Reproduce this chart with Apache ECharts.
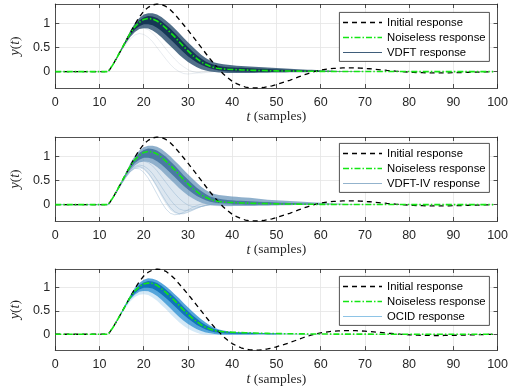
<!DOCTYPE html>
<html><head><meta charset="utf-8">
<script src="https://cdn.jsdelivr.net/npm/echarts@6/dist/echarts.min.js"></script>
<style>html,body{margin:0;padding:0;background:#fff}#c{width:511px;height:387px}</style>
</head><body><div id="c"></div>
<script>
// ---------- data (t = 0..99 samples) ----------
const xTicks = [0,10,20,30,40,50,60,70,80,90,100];
const yTicks = [0, 0.5, 1];
const legendLabels = ['Initial response','Noiseless response'];
const bandNames = ['VDFT response','VDFT-IV response','OCID response'];

const initialResp = [0,0,0,0,0,0,0,0,0,0,0,0,0,
 0.14,0.3,0.47,0.64,0.81,0.98,1.13,1.25,
 1.33,1.38,1.4,1.39,1.35,1.28,1.19,1.08,0.97,0.86,
 0.74,0.62,0.5,0.38,0.26,0.15,0.05,-0.05,-0.13,-0.2,
 -0.25,-0.29,-0.32,-0.335,-0.34,-0.34,-0.33,-0.315,-0.295,-0.27,
 -0.24,-0.21,-0.18,-0.145,-0.11,-0.075,-0.045,-0.015,0.01,0.03,
 0.045,0.057,0.066,0.072,0.076,0.078,0.078,0.076,0.072,0.066,
 0.059,0.051,0.042,0.033,0.024,0.016,0.008,0.001,-0.005,-0.011,
 -0.016,-0.02,-0.023,-0.025,-0.026,-0.027,-0.027,-0.026,-0.025,-0.023,
 -0.021,-0.019,-0.016,-0.014,-0.011,-0.009,-0.006,-0.004,-0.002];

const noiseless = [0,0,0,0,0,0,0,0,0,0,0,0,0,
 0.14,0.3,0.47,0.64,0.8,0.93,1.02,1.08,
 1.1,1.09,1.05,0.98,0.9,0.81,0.72,0.62,0.52,0.43,
 0.34,0.27,0.2,0.15,0.11,0.08,0.065,0.055,0.048,0.043,
 0.039,0.035,0.032,0.029,0.026,0.023,0.021,0.019,0.017,0.015,
 0.013,0.012,0.011,0.01,0.009,0.008,0.007,0.006,0.005,0.005,
 0.004,0.004,0.003,0.003,0.003,0.002,0.002,0.002,0.002,0.002,
 0.002,0.001,0.001,0.001,0.001,0.001,0.001,0.001,0.001,0.001,
 0,0,0,0,0,0,0,0,0,0,
 0,0,0,0,0,0,0,0,0];

// VDFT ensemble envelope
const vdftHi = [0,0,0,0,0,0,0,0,0,0,0,0,0,
 0.145,0.31,0.49,0.67,0.85,1.0,1.11,1.18,
 1.21,1.21,1.18,1.13,1.06,0.98,0.89,0.8,0.7,0.61,
 0.52,0.43,0.35,0.28,0.23,0.19,0.17,0.15,0.14,0.13,
 0.12,0.115,0.11,0.105,0.1,0.095,0.09,0.085,0.08,0.075,
 0.07,0.065,0.06,0.055,0.05,0.045,0.04,0.036,0.032,0.028,
 0.024,0.02,0.017,0.014,0.012,0.01,0.008,0.006,0.005,0.004];
const vdftLo = [0,0,0,0,0,0,0,0,0,0,0,0,0,
 0.13,0.28,0.44,0.59,0.72,0.82,0.88,0.9,
 0.89,0.85,0.79,0.71,0.62,0.53,0.44,0.35,0.27,0.2,
 0.14,0.09,0.05,0.02,0,-0.01,-0.02,-0.025,-0.03,-0.03,
 -0.03,-0.03,-0.03,-0.03,-0.028,-0.026,-0.024,-0.022,-0.02,-0.019,
 -0.018,-0.017,-0.016,-0.015,-0.014,-0.013,-0.012,-0.011,-0.01,-0.009,
 -0.008,-0.007,-0.006,-0.005,-0.004,-0.003,-0.002,-0.002,-0.001,0];
const vdftCoreHi = [0,0,0,0,0,0,0,0,0,0,0,0,0,
 0.142,0.305,0.48,0.655,0.82,0.96,1.06,1.12,
 1.15,1.14,1.11,1.05,0.97,0.89,0.8,0.7,0.6,0.51,
 0.42,0.34,0.27,0.21,0.165,0.135,0.115,0.1,0.092,0.085,
 0.081,0.077,0.073,0.069,0.065,0.061,0.057,0.053,0.049,0.045,
 0.042,0.039,0.036,0.033,0.03,0.027,0.024,0.021,0.018,0.015];
const vdftCoreLo = [0,0,0,0,0,0,0,0,0,0,0,0,0,
 0.135,0.29,0.455,0.615,0.76,0.87,0.94,0.98,
 0.98,0.96,0.91,0.84,0.76,0.67,0.58,0.49,0.4,0.32,
 0.25,0.19,0.14,0.1,0.07,0.045,0.025,0.01,0,-0.005,
 -0.008,-0.01,-0.01,-0.01,-0.01,-0.01,-0.009,-0.008,-0.007,-0.006,
 -0.005,-0.004,-0.004,-0.003,-0.003,-0.002,-0.002,-0.001,-0.001,0];
const vdftOutA = [0,0,0,0,0,0,0,0,0,0,0,0,0,
 0.13,0.28,0.43,0.57,0.68,0.76,0.79,0.77,
 0.71,0.62,0.5,0.38,0.26,0.15,0.06,0,-0.04,-0.05,
 -0.04,-0.03,-0.01,0,0.01,0.01,0.01,0,0,0, 0,0,0,0];
const vdftOutB = [0,0,0,0,0,0,0,0,0,0,0,0,0,
 0.14,0.29,0.45,0.6,0.73,0.83,0.89,0.9,
 0.87,0.8,0.7,0.59,0.47,0.36,0.26,0.17,0.1,0.04,
 0,-0.02,-0.03,-0.02,-0.01,0,0.01,0.01,0.01,0, 0,0,0,0];

// VDFT-IV ensemble envelope
const ivHi = [0,0,0,0,0,0,0,0,0,0,0,0,0,
 0.145,0.31,0.49,0.67,0.86,1.01,1.12,1.19,
 1.22,1.22,1.2,1.15,1.08,1.0,0.91,0.82,0.72,0.63,
 0.54,0.45,0.37,0.3,0.25,0.22,0.2,0.19,0.18,0.17,
 0.16,0.15,0.145,0.14,0.13,0.12,0.11,0.1,0.095,0.09,
 0.085,0.08,0.075,0.07,0.065,0.06,0.055,0.05,0.045,0.04,
 0.035,0.03,0.025,0.02,0.016,0.013,0.01,0.008,0.006,0.004];
const ivLo = [0,0,0,0,0,0,0,0,0,0,0,0,0,
 0.13,0.28,0.43,0.58,0.71,0.81,0.87,0.89,
 0.88,0.84,0.78,0.7,0.61,0.52,0.43,0.34,0.26,0.19,
 0.13,0.08,0.04,0.01,-0.01,-0.02,-0.025,-0.03,-0.03,-0.03,
 -0.03,-0.03,-0.03,-0.03,-0.028,-0.026,-0.024,-0.022,-0.02,-0.018,
 -0.016,-0.014,-0.012,-0.01,-0.008,-0.006,-0.005,-0.004,-0.003,-0.002,
 -0.002,-0.001,-0.001,0,0,0,0,0,0,0];
const ivCoreHi = [0,0,0,0,0,0,0,0,0,0,0,0,0,
 0.142,0.305,0.48,0.655,0.825,0.965,1.07,1.13,
 1.16,1.15,1.12,1.06,0.99,0.9,0.81,0.71,0.61,0.52,
 0.43,0.35,0.28,0.22,0.17,0.14,0.12,0.105,0.095,0.088,
 0.082,0.077,0.072,0.068,0.064,0.06,0.056,0.052,0.048,0.044,
 0.04,0.037,0.034,0.031,0.028,0.025,0.022,0.019,0.016,0.013];
const ivCoreLo = [0,0,0,0,0,0,0,0,0,0,0,0,0,
 0.135,0.29,0.455,0.61,0.75,0.86,0.93,0.97,
 0.97,0.95,0.9,0.83,0.75,0.66,0.57,0.48,0.39,0.31,
 0.24,0.18,0.13,0.09,0.06,0.04,0.025,0.015,0.008,0.004,
 0.002,0,-0.002,-0.003,-0.004,-0.004,-0.004,-0.003,-0.003,-0.002,
 -0.002,-0.001,-0.001,0,0,0,0,0,0,0];
const ivWideLo = [0,0,0,0,0,0,0,0,0,0,0,0,0,
 0.13,0.27,0.42,0.56,0.67,0.74,0.76,0.72,
 0.63,0.5,0.34,0.17,0.01,-0.11,-0.18,-0.2,-0.19,-0.16,
 -0.12,-0.08,-0.05,-0.03,-0.025,-0.03,-0.035,-0.04,-0.04,-0.04];
const ivOutA = [0,0,0,0,0,0,0,0,0,0,0,0,0,
 0.13,0.28,0.43,0.57,0.69,0.77,0.79,0.75,
 0.66,0.53,0.38,0.22,0.07,-0.06,-0.15,-0.19,-0.19,-0.16,
 -0.12,-0.08,-0.04,-0.01,0.01,0.02,0.02,0.015,0.01,0];
const ivOutB = [0,0,0,0,0,0,0,0,0,0,0,0,0,
 0.135,0.29,0.44,0.59,0.71,0.79,0.82,0.8,
 0.74,0.64,0.51,0.37,0.23,0.1,-0.01,-0.09,-0.12,-0.12,
 -0.1,-0.07,-0.04,-0.02,0,0.01,0.01,0.005,0,0];
const ivOutC = [0,0,0,0,0,0,0,0,0,0,0,0,0,
 0.14,0.29,0.45,0.6,0.73,0.83,0.89,0.9,
 0.87,0.8,0.7,0.58,0.46,0.34,0.23,0.13,0.05,-0.01,
 -0.04,-0.05,-0.04,-0.02,0,0.02,0.03,0.03,0.02,0.01];
const ivOutD = [0,0,0,0,0,0,0,0,0,0,0,0,0,
 0.13,0.28,0.44,0.58,0.69,0.75,0.74,0.67,
 0.55,0.39,0.22,0.05,-0.09,-0.18,-0.21,-0.2,-0.16,-0.11,
 -0.06,-0.02,0.01,0.03,0.04,0.03,0.02,0.01,0,0];

// OCID ensemble envelope
const ocidHi = [0,0,0,0,0,0,0,0,0,0,0,0,0,
 0.145,0.31,0.49,0.67,0.85,1.0,1.1,1.17,
 1.2,1.19,1.16,1.1,1.03,0.95,0.86,0.77,0.67,0.58,
 0.49,0.4,0.32,0.25,0.19,0.14,0.1,0.08,0.065,0.055,
 0.05,0.045,0.041,0.037,0.034,0.031,0.028,0.025,0.022,0.019,
 0.017,0.015,0.013,0.011,0.009,0.007,0.006,0.005,0.004,0.003];
const ocidLo = [0,0,0,0,0,0,0,0,0,0,0,0,0,
 0.135,0.29,0.45,0.61,0.75,0.85,0.91,0.93,
 0.92,0.88,0.82,0.74,0.65,0.56,0.46,0.37,0.29,0.22,
 0.16,0.11,0.07,0.04,0.02,0.005,-0.005,-0.01,-0.012,-0.012,
 -0.012,-0.011,-0.01,-0.009,-0.008,-0.007,-0.006,-0.005,-0.004,-0.003,
 -0.002,-0.002,-0.001,-0.001,0,0,0,0,0,0];
const ocidCoreHi = [0,0,0,0,0,0,0,0,0,0,0,0,0,
 0.14,0.3,0.475,0.65,0.815,0.95,1.05,1.11,
 1.14,1.13,1.1,1.04,0.96,0.88,0.79,0.69,0.59,0.5,
 0.41,0.33,0.26,0.2,0.15,0.11,0.085,0.065,0.052,0.045,
 0.04,0.036,0.033,0.03,0.027,0.024,0.021,0.018,0.016,0.014];
const ocidCoreLo = [0,0,0,0,0,0,0,0,0,0,0,0,0,
 0.135,0.29,0.455,0.62,0.77,0.88,0.96,1.0,
 1.0,0.98,0.93,0.86,0.78,0.69,0.6,0.51,0.42,0.34,
 0.27,0.2,0.15,0.1,0.07,0.045,0.03,0.02,0.015,0.012,
 0.01,0.008,0.007,0.006,0.005,0.004,0.003,0.002,0.002,0.001];
const ocidWideLo = [0,0,0,0,0,0,0,0,0,0,0,0,0,
 0.13,0.28,0.43,0.58,0.71,0.8,0.85,0.86,
 0.84,0.79,0.72,0.63,0.54,0.44,0.35,0.26,0.18,0.12,
 0.07,0.03,0,-0.01,-0.015,-0.015,-0.015,-0.015,-0.015,-0.015];

// ---------- layout / style ----------
const GRIDS = [{top:4,height:84},{top:137,height:84},{top:269,height:83}];
const LEG_TOP = [12, 143, 276];
const AXC = '#262626';
const GRIDC = '#e4e4e4';
const legendLineColors = ['#3f5d7a','#93b3cd','#8ec4e6'];
const BLACK_STYLE = {color:'#000', width:1.3, type:[5,4]};
const GREEN_STYLE = {color:'#14e614', width:1.6, type:[6,2,1.5,2]};

function pts(arr){ return arr.map((v,i)=>[i,v]); }
function lineS(gi, name, arr, style, z){
  return {type:'line', name:name, xAxisIndex:2*gi, yAxisIndex:2*gi, data:pts(arr),
    symbol:'none', lineStyle:style, z:z, silent:true, animation:false};
}
function bandC(gi, lo, hi, color, op, z){
  const n = Math.min(lo.length, hi.length);
  return {type:'custom', xAxisIndex:2*gi, yAxisIndex:2*gi, data:[[0,0]], z:z, silent:true,
    animation:false, clip:true,
    renderItem:(params, api)=>{
      const p = [];
      for (let i=0;i<n;i++) p.push(api.coord([i, hi[i]]));
      for (let i=n-1;i>=0;i--) p.push(api.coord([i, lo[i]]));
      return {type:'polygon', shape:{points:p}, style:{fill:color, opacity:op}};
    }};
}

const series = [];
// plot 1: VDFT
series.push(lineS(0,'vdftA', vdftOutA, {color:'#6d87a0', width:0.8, opacity:0.2}, 1));
series.push(lineS(0,'vdftB', vdftOutB, {color:'#6d87a0', width:0.8, opacity:0.2}, 1));
series.push(bandC(0, vdftLo, vdftHi, '#264b6c', 0.8, 1));
series.push(bandC(0, vdftCoreLo, vdftCoreHi, '#123452', 0.95, 1));
// plot 2: VDFT-IV
series.push(bandC(1, ivWideLo, ivLo, '#a9c3d9', 0.4, 1));
[ivOutA, ivOutB, ivOutC, ivOutD].forEach((a,k)=>series.push(
  lineS(1,'ivO'+k, a, {color:'#7ea6c6', width:0.8, opacity:0.45}, 1)));
series.push(bandC(1, ivLo, ivHi, '#5f8fb6', 0.7, 1));
series.push(bandC(1, ivCoreLo, ivCoreHi, '#3e719b', 0.85, 1));
// plot 3: OCID
series.push(bandC(2, ocidWideLo, ocidLo, '#94c8ea', 0.4, 1));
series.push(bandC(2, ocidLo, ocidHi, '#2a8ed2', 0.8, 1));
series.push(bandC(2, ocidCoreLo, ocidCoreHi, '#0c70b8', 0.92, 1));
// reference curves
for (let gi=0; gi<3; gi++){
  series.push(lineS(gi, legendLabels[0], initialResp, BLACK_STYLE, 5));
  series.push(lineS(gi, legendLabels[1], noiseless, GREEN_STYLE, 6));
}

const xAxes = [], yAxes = [], grids = [], graphics = [];
const serifI = {fontFamily:'Liberation Serif', fontStyle:'italic', fontSize:14, color:AXC};
const serifR = {fontFamily:'Liberation Serif', fontSize:13.5, color:AXC};
GRIDS.forEach((g,gi)=>{
  grids.push({left:45, width:455, top:g.top, height:g.height, containLabel:false});
  xAxes.push({type:'value', gridIndex:gi, min:0, max:100, interval:10, position:'bottom',
    axisLine:{show:true, onZero:false, lineStyle:{color:AXC, width:0.8}},
    axisTick:{show:true, inside:true, length:4, lineStyle:{color:AXC, width:0.8}},
    axisLabel:{color:AXC, fontSize:12.5, fontFamily:'Liberation Sans', margin:8},
    splitLine:{show:true, lineStyle:{color:GRIDC, width:0.8}},
    name:'{i|t} {r|(samples)}', nameLocation:'middle', nameGap:21,
    nameTextStyle:{rich:{i:serifI, r:serifR}}});
  xAxes.push({type:'value', gridIndex:gi, min:0, max:100, interval:10, position:'top',
    axisLine:{show:true, onZero:false, lineStyle:{color:AXC, width:0.8}},
    axisTick:{show:true, inside:true, length:4, lineStyle:{color:AXC, width:0.8}},
    axisLabel:{show:false}, splitLine:{show:false}});
  yAxes.push({type:'value', gridIndex:gi, min:-0.34, max:1.4, position:'left',
    axisLine:{show:true, onZero:false, lineStyle:{color:AXC, width:0.8}},
    axisTick:{show:true, inside:true, length:4, customValues:yTicks, lineStyle:{color:AXC, width:0.8}},
    axisLabel:{color:AXC, fontSize:12.5, fontFamily:'Liberation Sans', margin:5, customValues:yTicks,
      formatter:(v)=>String(v)},
    splitLine:{show:true, lineStyle:{color:GRIDC, width:0.8}},
    name:'{i|y}{r|(}{i|t}{r|)}', nameLocation:'middle', nameGap:27,
    nameTextStyle:{rich:{i:serifI, r:serifR}}});
  yAxes.push({type:'value', gridIndex:gi, min:-0.34, max:1.4, position:'right',
    axisLine:{show:true, onZero:false, lineStyle:{color:AXC, width:0.8}},
    axisTick:{show:true, inside:true, length:4, customValues:yTicks, lineStyle:{color:AXC, width:0.8}},
    axisLabel:{show:false}, splitLine:{show:false}});

  // legend box drawn as graphics
  const T = LEG_TOP[gi], L = 339;
  const rows = [
    {text:legendLabels[0], style:{stroke:'#000', lineWidth:1.3, lineDash:[5,4]}},
    {text:legendLabels[1], style:{stroke:'#14e614', lineWidth:1.6, lineDash:[6,2,1.5,2]}},
    {text:bandNames[gi], style:{stroke:legendLineColors[gi], lineWidth:1.2}}
  ];
  graphics.push({type:'rect', left:L, top:T, z:10,
    shape:{width:150, height:49}, style:{fill:'#fff', stroke:AXC, lineWidth:0.8}});
  rows.forEach((r,k)=>{
    const y = T + 10.5 + k*15;
    graphics.push({type:'line', z:11, shape:{x1:L+4, y1:y, x2:L+43, y2:y}, style:r.style});
    graphics.push({type:'text', z:11, x:L+48, y:y, style:{text:r.text, fill:'#000',
      font:'11.3px "Liberation Sans"', verticalAlign:'middle', align:'left'}});
  });
});

const chart = echarts.init(document.getElementById('c'), null, {renderer:'canvas'});
chart.setOption({animation:false, backgroundColor:'#fff', grid:grids, xAxis:xAxes, yAxis:yAxes,
  graphic:{elements:graphics}, series:series});
</script></body></html>
